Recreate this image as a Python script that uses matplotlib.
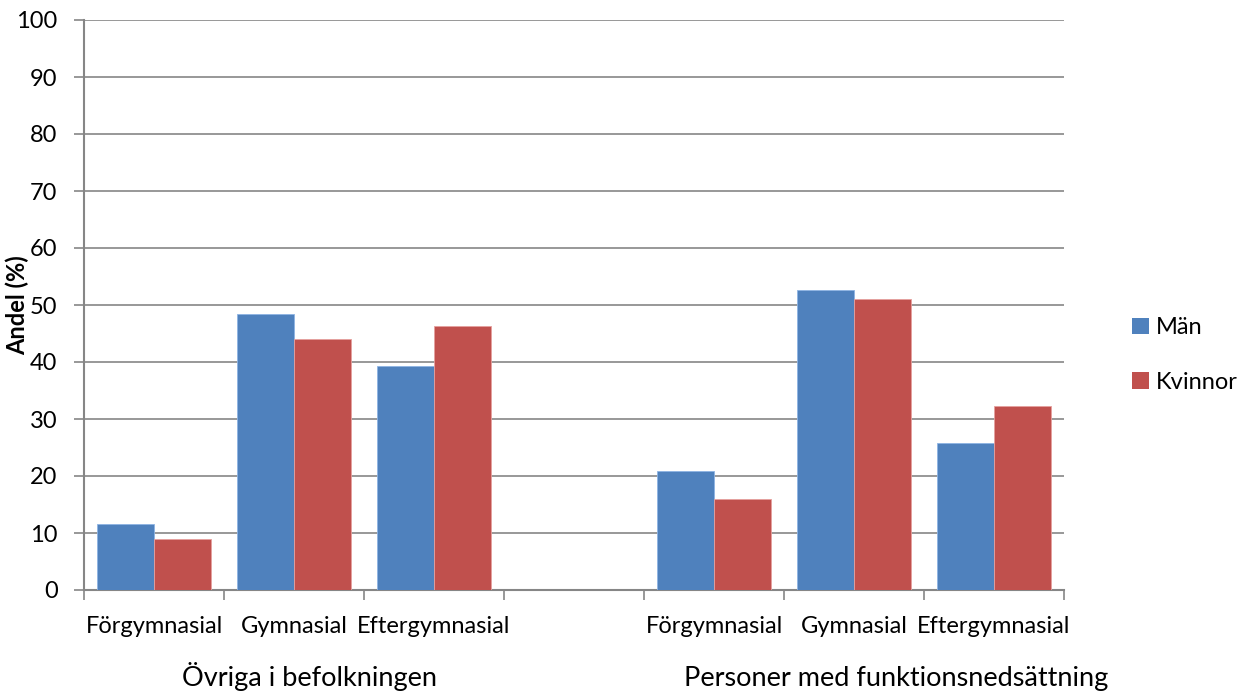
import numpy as np
import matplotlib
matplotlib.use("Agg")
import matplotlib.pyplot as plt
from matplotlib.patches import Patch
from matplotlib.ticker import FixedLocator, NullFormatter

plt.rcParams['font.family'] = ['Lato', 'DejaVu Sans']

# data
categories = ["Förgymnasial", "Gymnasial", "Eftergymnasial", "",
              "Förgymnasial", "Gymnasial", "Eftergymnasial"]
groups = ["Övriga i befolkningen", "Personer med funktionsnedsättning"]
man = [11.5, 48.4, 39.3, np.nan, 20.8, 52.6, 25.8]
kvinnor = [8.9, 44.1, 46.4, np.nan, 16.0, 51.0, 32.3]

c_man = '#4F81BD'
c_kv = '#C0504D'
grid_c = '#868686'

fig = plt.figure(figsize=(12.52, 6.93), dpi=100)
ax = fig.add_axes([84 / 1252, 1 - 590 / 693, (1064 - 84) / 1252, (590 - 20) / 693])

x = np.arange(len(categories))
w = 0.407
ax.bar(x - w / 2, man, w, color=c_man, edgecolor='#8EB4E3', linewidth=0.6, zorder=3)
ax.bar(x + w / 2, kvinnor, w, color=c_kv, edgecolor='#E6A09E', linewidth=0.6, zorder=3)

ax.set_xlim(-0.5, len(categories) - 0.5)
ax.set_ylim(0, 100)
ax.set_yticks(np.arange(0, 101, 10))
ax.yaxis.grid(True, color=grid_c, linewidth=1.2, zorder=0)
ax.tick_params(axis='y', length=7, width=1.2, color=grid_c, labelsize=17, pad=12)

# category labels centred, boundary ticks as minor ticks
ax.set_xticks(x)
ax.set_xticklabels(categories, fontsize=17)
ax.tick_params(axis='x', which='major', length=0, pad=19)
ax.xaxis.set_minor_locator(FixedLocator(np.arange(-0.5, len(categories), 1)))
ax.xaxis.set_minor_formatter(NullFormatter())
ax.tick_params(axis='x', which='minor', length=7, width=1.2, color=grid_c)

for s in ['top', 'right']:
    ax.spines[s].set_visible(False)
for s in ['left', 'bottom']:
    ax.spines[s].set_color(grid_c)
    ax.spines[s].set_linewidth(1.5)

ax.set_ylabel("Andel (%)", fontsize=17, fontweight='bold')
ax.yaxis.set_label_coords(-0.056, 0.5)

# group labels
trans = ax.get_xaxis_transform()
ax.text(1.11, -0.168, groups[0], transform=trans, ha='center', va='baseline', fontsize=19.5)
ax.text(5.3, -0.168, groups[1], transform=trans, ha='center', va='baseline', fontsize=19.5)

handles = [Patch(facecolor=c_man, label="Män"), Patch(facecolor=c_kv, label="Kvinnor")]
fig.legend(handles=handles, loc='center left', bbox_to_anchor=(1111 / 1252, 1 - 355 / 693),
           frameon=False, fontsize=17, handlelength=0.7, handleheight=0.7,
           handletextpad=0.3, labelspacing=1.42)

fig.savefig("out.png", dpi=100)
